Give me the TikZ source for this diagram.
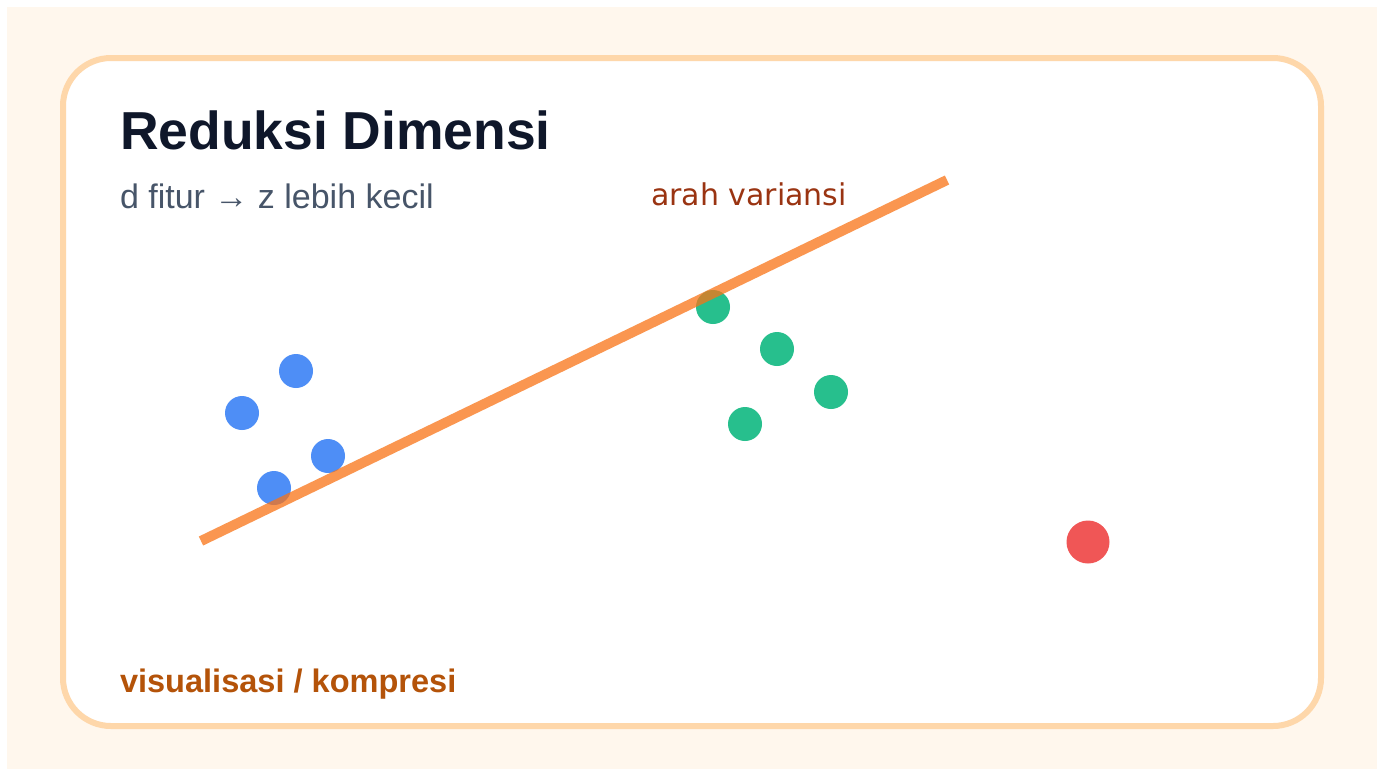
\documentclass[tikz,border=0pt]{standalone}
\usepackage{fontspec}
\setmainfont{Liberation Sans}
\newfontfamily\dejavu{DejaVu Sans}
\definecolor{bgcream}{HTML}{FFF7ED}
\definecolor{cardborder}{HTML}{FED7AA}
\definecolor{titlecol}{HTML}{0F172A}
\definecolor{subcol}{HTML}{475569}
\definecolor{arahcol}{HTML}{9A3412}
\definecolor{footcol}{HTML}{B45309}
\definecolor{linecol}{HTML}{F97316}
\definecolor{bluedot}{HTML}{3B82F6}
\definecolor{greendot}{HTML}{10B981}
\definecolor{reddot}{HTML}{EF4444}
\tikzset{
  txt/.style={anchor=base west, inner sep=0pt, outer sep=0pt},
  dotb/.style={circle, fill=bluedot, fill opacity=0.9, minimum size=34*0.75pt, inner sep=0pt},
  dotg/.style={circle, fill=greendot, fill opacity=0.9, minimum size=34*0.75pt, inner sep=0pt},
  dotr/.style={circle, fill=reddot, fill opacity=0.9, minimum size=43*0.75pt, inner sep=0pt},
  axisline/.style={draw=linecol, draw opacity=0.75, line width=10*0.75pt}
}
\begin{document}
\begin{tikzpicture}[x=0.75pt, y=-0.75pt]
\useasboundingbox (0,0) rectangle (1384,769);
\fill[white] (0,0) rectangle (1384,769);
\fill[bgcream] (7,7) rectangle (1377,769);
\draw[cardborder, line width=6*0.75pt, fill=white, rounded corners=48*0.75pt] (63,58) rectangle (1321,726);
\node[txt, font=\bfseries\fontsize{40.1}{44}\selectfont, text=titlecol] (title) at (120,149) {Reduksi Dimensi};
\node[txt, font=\fontsize{25.5}{30}\selectfont, text=subcol] (sub) at (120,208) {d fitur → z lebih kecil};
\node[txt, font=\dejavu\fontsize{22.5}{27}\selectfont, text=arahcol] (arah) at (651,205) {arah variansi};
\node[txt, font=\bfseries\fontsize{24.4}{28}\selectfont, text=footcol] (foot) at (120,692) {visualisasi / kompresi};
\node[dotb] (b1) at (296,371) {};
\node[dotb] (b2) at (242,413) {};
\node[dotb] (b3) at (328,456) {};
\node[dotb] (b4) at (274,488) {};
\node[dotg] (g1) at (713,307) {};
\node[dotg] (g2) at (777,349) {};
\node[dotg] (g3) at (831,392) {};
\node[dotg] (g4) at (745,424) {};
\node[dotr] (r1) at (1088,542) {};
\coordinate (la) at (201,541);
\coordinate (lb) at (947,180);
\draw[axisline] (la) -- (lb);
\end{tikzpicture}
\end{document}
